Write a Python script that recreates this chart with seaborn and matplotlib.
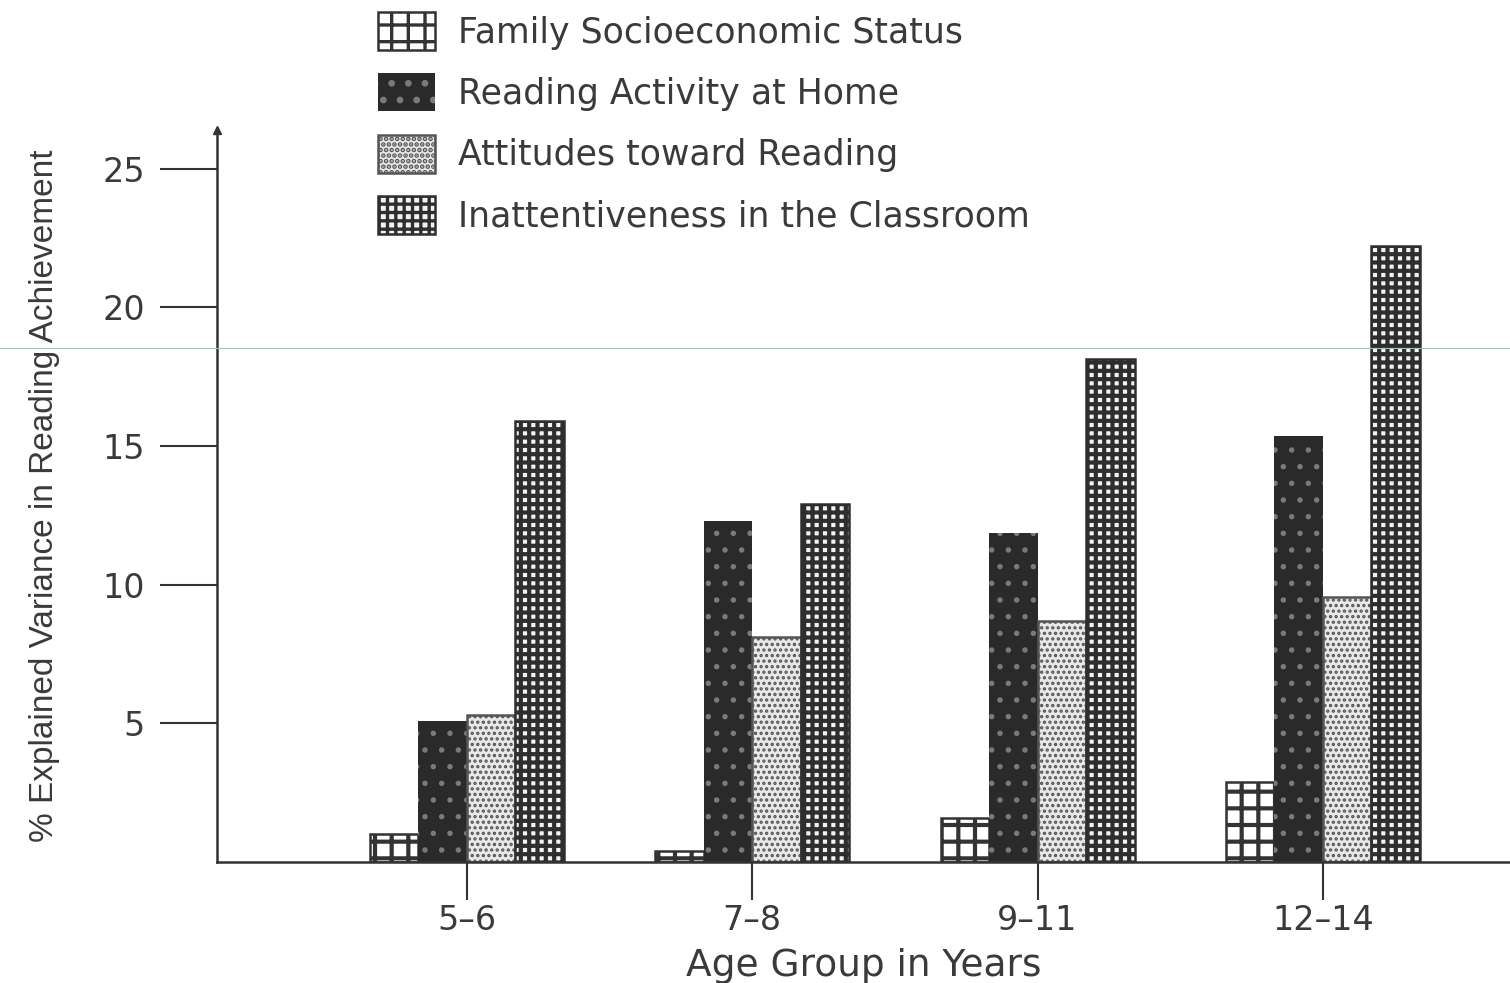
import matplotlib
matplotlib.use("Agg")
import matplotlib.pyplot as plt
from matplotlib.lines import Line2D
import seaborn as sns
import pandas as pd

# ---------------------------------------------------
# Data
# ---------------------------------------------------
age_groups = ["5\u20136", "7\u20138", "9\u201311", "12\u201314"]
factors = [
    "Family Socioeconomic Status",
    "Reading Activity at Home",
    "Attitudes toward Reading",
    "Inattentiveness in the Classroom",
]
ses = [1.0, 0.4, 1.6, 2.9]
reading_home = [5.1, 12.3, 11.85, 15.35]
attitudes = [5.3, 8.1, 8.7, 9.55]
inattentive = [15.9, 12.9, 18.15, 22.2]

df = pd.DataFrame({
    "age": age_groups * 4,
    "factor": [f for f in factors for _ in age_groups],
    "value": ses + reading_home + attitudes + inattentive,
})

sns.set_style("white")
plt.rcParams["font.family"] = ["DejaVu Sans"]
plt.rcParams["hatch.linewidth"] = 2.4

ink = "#333333"
text_col = "#3a3a3a"

fig = plt.figure(figsize=(15.1, 9.83), dpi=100)
ax = fig.add_axes([217 / 1510, 1 - 862 / 983, 1 - 217 / 1510, (862 - 130) / 983])

sns.barplot(data=df, x="age", y="value", hue="factor", order=age_groups,
            hue_order=factors, width=0.68, gap=0, legend=False, ax=ax,
            palette=["white"] * 4, saturation=1, err_kws={"linewidth": 0})

# fill patterns imitating the print hatching
styles = [
    dict(facecolor="white", edgecolor=ink, hatch="+", linewidth=1.8, hlw=3.0),
    dict(facecolor="#2a2a2a", edgecolor="#7a7a7a", hatch=".", linewidth=0, hlw=1.5),
    dict(facecolor="#e8e8e8", edgecolor="#555555", hatch="...", linewidth=1.8, hlw=1.6),
    dict(facecolor="#f2f2f2", edgecolor="#2e2e2e", hatch="++", linewidth=1.8, hlw=3.0),
]
for cont, st in zip(ax.containers, styles):
    for bar in cont:
        bar.set_facecolor(st["facecolor"])
        bar.set_edgecolor(st["edgecolor"])
        bar.set_hatch(st["hatch"])
        bar.set_linewidth(st["linewidth"])
        if hasattr(bar, "set_hatch_linewidth"):
            bar.set_hatch_linewidth(st["hlw"])

ax.set_xlim(-0.876, 3.656)
ax.set_ylim(0, 26.4)
ax.set_yticks([5, 10, 15, 20, 25])
sns.despine(ax=ax, top=True, right=True)
for sp in ("left", "bottom"):
    ax.spines[sp].set_color(ink)
    ax.spines[sp].set_linewidth(1.8)
ax.plot(0, 1, marker="^", markersize=6, color=ink, transform=ax.transAxes,
        clip_on=False)

ax.tick_params(axis="y", left=True, length=41, width=1.5, color=ink, pad=11,
               labelsize=24, labelcolor=text_col)
ax.tick_params(axis="x", bottom=True, length=27, width=1.5, color=ink, pad=3,
               labelsize=24, labelcolor=text_col)

ax.set_xlabel("Age Group in Years", fontsize=27, color=text_col, labelpad=8)
ax.set_ylabel("% Explained Variance in Reading Achievement", fontsize=24,
              color=text_col, labelpad=30, family=["Liberation Sans"])

leg = fig.legend(ax.containers, factors, loc="upper left",
                 bbox_to_anchor=(378 / 1510, 1 - 12 / 983), frameon=False,
                 fontsize=25, handlelength=1.65, handleheight=1.3,
                 handletextpad=0.66, labelspacing=0.68, borderpad=0,
                 borderaxespad=0)
for t in leg.get_texts():
    t.set_color(text_col)

# faint scanner line across the page
fig.add_artist(Line2D([0, 1], [1 - 348 / 983] * 2, transform=fig.transFigure,
                      color="#9cc4c6", linewidth=0.8))

fig.savefig("out.png", dpi=100)
